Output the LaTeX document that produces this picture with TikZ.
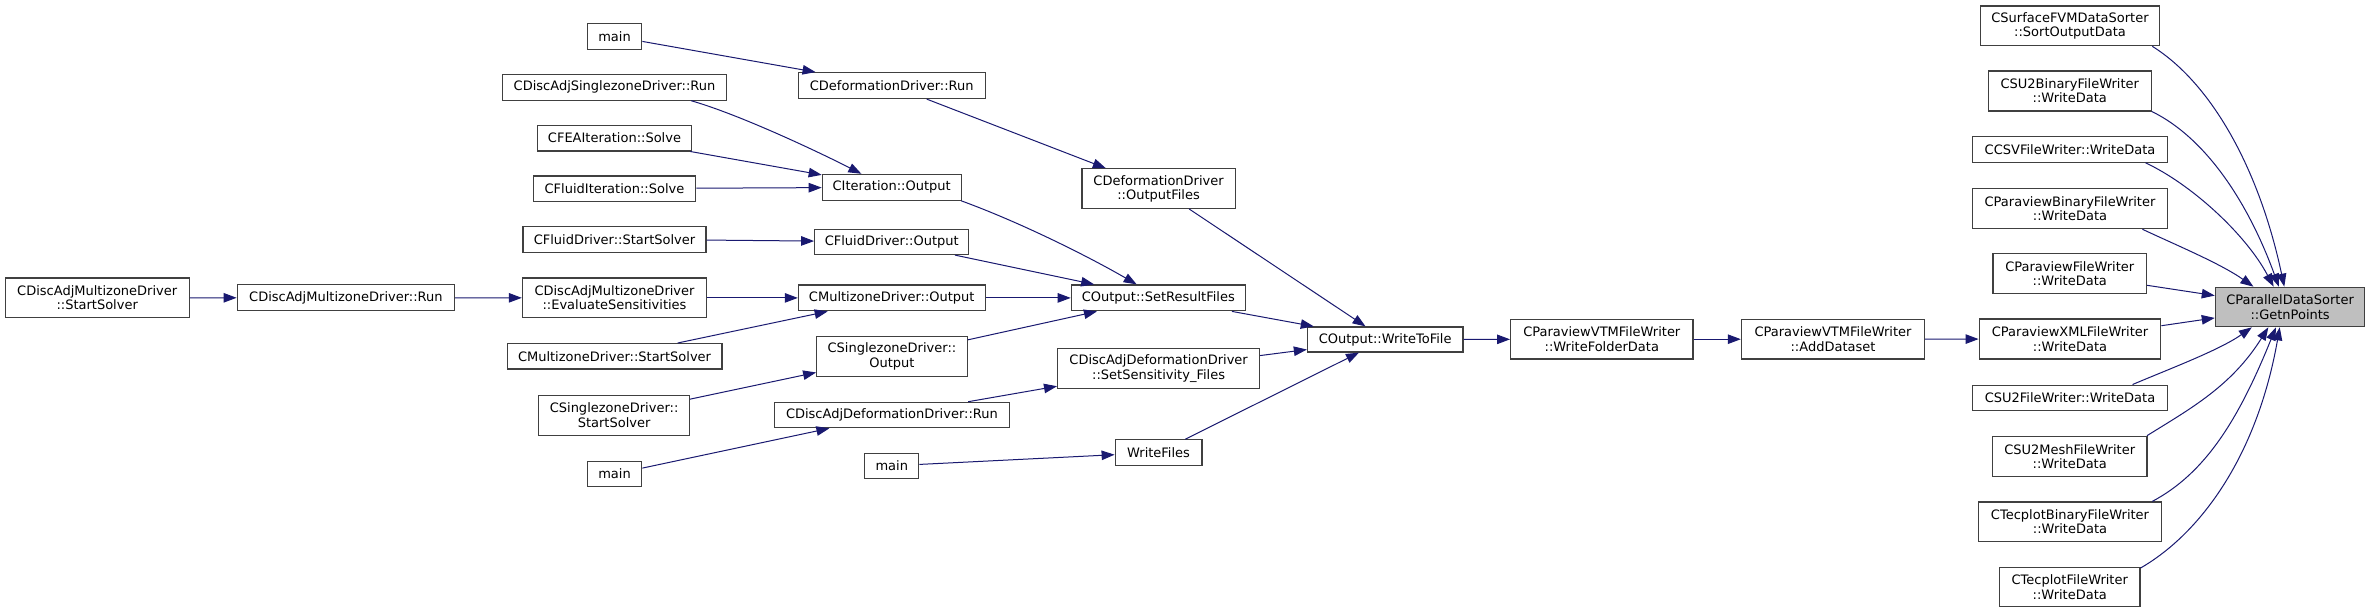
\documentclass[tikz,border=0pt]{standalone}
\usepackage{fontspec}
\setmainfont{DejaVu Sans}
\usetikzlibrary{arrows.meta}
\definecolor{edgeblue}{HTML}{191970}
\definecolor{nodeborder}{HTML}{404040}
\definecolor{rootfill}{HTML}{BFBFBF}
\tikzset{
  nd/.style={draw=nodeborder, line width=1.2pt, fill=white, inner sep=0pt,
    align=center, font=\fontsize{13pt}{14.3pt}\selectfont},
  root/.style={nd, fill=rootfill},
  e/.style={draw=edgeblue, line width=1pt, -{Triangle[length=13pt,width=9.5pt]}},
}
\newcommand{\nd}[7][nd]{\node[#1, minimum width=#5pt, minimum height=#6pt] (#2) at (#3,-#4) {#7};}
\begin{document}
\begin{tikzpicture}[x=1pt,y=1pt]
\useasboundingbox (0,0) rectangle (2369,-613);
\fill[white] (0,0) rectangle (2369,-613);

\nd{dams}{97.2}{297.9}{184.2}{39.8}{CDiscAdjMultizoneDriver\\::StartSolver}
\nd{damr}{345.9}{297.7}{217.4}{26.2}{CDiscAdjMultizoneDriver::Run}
\nd{mainA}{614.5}{36.5}{54.6}{25.5}{main}
\nd{dasr}{614.5}{87.2}{223.9}{25.8}{CDiscAdjSinglezoneDriver::Run}
\nd{fea}{614.5}{138}{154.6}{25.8}{CFEAIteration::Solve}
\nd{fis}{614.5}{188.6}{162.7}{25.4}{CFluidIteration::Solve}
\nd{fds}{614.5}{239.2}{183.1}{25.9}{CFluidDriver::StartSolver}
\nd{eval}{614.5}{297.9}{184.2}{39.8}{CDiscAdjMultizoneDriver\\::EvaluateSensitivities}
\nd{mzs}{614.5}{356.3}{214.8}{25.4}{CMultizoneDriver::StartSolver}
\nd{szs}{614.1}{415.2}{150.5}{39.9}{CSinglezoneDriver::\\StartSolver}
\nd{mainB}{614.5}{474}{54.6}{25.4}{main}

\nd{cdr}{891.75}{85.6}{186.7}{25.8}{CDeformationDriver::Run}
\nd{ito}{891.7}{187.3}{138.8}{25.8}{CIteration::Output}
\nd{fdo}{891.75}{241.8}{154.1}{25.4}{CFluidDriver::Output}
\nd{mzo}{891.75}{297.9}{186.7}{25.8}{CMultizoneDriver::Output}
\nd{szo}{891.95}{356.5}{150.5}{39.9}{CSinglezoneDriver::\\Output}
\nd{dadr}{891.9}{415}{234.8}{25.4}{CDiscAdjDeformationDriver::Run}
\nd{mainC}{891.75}{465.8}{54.1}{25.4}{main}

\nd{cdof}{1158.55}{188.6}{153.1}{39.5}{CDeformationDriver\\::OutputFiles}
\nd{srf}{1158.3}{297.9}{174}{25.8}{COutput::SetResultFiles}
\nd{ssf}{1158.6}{368.6}{202}{39.9}{CDiscAdjDeformationDriver\\::SetSensitivity\_Files}
\nd{wf}{1158.55}{452.5}{86.7}{25.4}{WriteFiles}

\nd{wtf}{1385.2}{339.5}{155.5}{25}{COutput::WriteToFile}
\nd{wfd}{1601.8}{339.2}{182.4}{39.5}{CParaviewVTMFileWriter\\::WriteFolderData}
\nd{ads}{1833}{339.2}{183.2}{39.5}{CParaviewVTMFileWriter\\::AddDataset}

\nd{sfvm}{2070}{25.8}{178.6}{39.8}{CSurfaceFVMDataSorter\\::SortOutputData}
\nd{su2b}{2069.75}{91}{162.7}{39.9}{CSU2BinaryFileWriter\\::WriteData}
\nd{csv}{2070}{149.5}{194.8}{25.4}{CCSVFileWriter::WriteData}
\nd{pvb}{2070}{208.5}{194.8}{40.3}{CParaviewBinaryFileWriter\\::WriteData}
\nd{pvf}{2069.75}{273.6}{153.5}{39.9}{CParaviewFileWriter\\::WriteData}
\nd{pvx}{2070}{339}{181.6}{39.9}{CParaviewXMLFileWriter\\::WriteData}
\nd{su2f}{2070}{397.8}{194.8}{25.4}{CSU2FileWriter::WriteData}
\nd{su2m}{2069.7}{456.4}{154.6}{40.2}{CSU2MeshFileWriter\\::WriteData}
\nd{tpb}{2070}{521.9}{182.6}{39.8}{CTecplotBinaryFileWriter\\::WriteData}
\nd{tpf}{2069.75}{587}{140.3}{39.5}{CTecplotFileWriter\\::WriteData}
\nd[root]{gnp}{2290.1}{307}{149.5}{39.5}{CParallelDataSorter\\::GetnPoints}

% edges
\draw[e] (mainA) -- (cdr);
\draw[e] (dasr.-10.6) .. controls +(-16:50) and +(153:50) .. (ito.156.8);
\draw[e] (fea) -- (ito);
\draw[e] (fis) -- (ito);
\draw[e] (fds) -- (fdo);
\draw[e] (dams) -- (damr);
\draw[e] (damr) -- (eval);
\draw[e] (eval) -- (mzo);
\draw[e] (mzs) -- (mzo);
\draw[e] (szs) -- (szo);
\draw[e] (mainB) -- (dadr);
\draw[e] (cdr) -- (cdof);
\draw[e] (ito.-11.3) .. controls +(-20:60) and +(150:60) .. (srf.148.8);
\draw[e] (fdo) -- (srf);
\draw[e] (mzo) -- (srf);
\draw[e] (szo) -- (srf);
\draw[e] (dadr) -- (ssf);
\draw[e] (mainC) -- (wf);
\draw[e] (cdof) -- (wtf);
\draw[e] (srf) -- (wtf);
\draw[e] (ssf) -- (wtf);
\draw[e] (wf) -- (wtf);
\draw[e] (wtf) -- (wfd);
\draw[e] (wfd) -- (ads);
\draw[e] (ads) -- (pvx);

\draw[e] (sfvm.-14.1) .. controls +(-32:70) and +(102:120) .. (gnp.106.4);
\draw[e] (su2b.-14.6) .. controls +(-26:60) and +(110:90) .. (gnp.119.4);
\draw[e] (csv.-10.1) .. controls +(-25:50) and +(118:60) .. (gnp.129.3);
\draw[e] (pvb.-16.3) .. controls +(-25:40) and +(145:40) .. (gnp.151.4);
\draw[e] (pvf) -- (gnp);
\draw[e] (pvx) -- (gnp);
\draw[e] (su2f.12.8) .. controls +(23:40) and +(-145:40) .. (gnp.208.5);
\draw[e] (su2m.15.7) .. controls +(32:50) and +(-122:70) .. (gnp.223.2);
\draw[e] (tpb.14.6) .. controls +(28:60) and +(-112:100) .. (gnp.235.7);
\draw[e] (tpf.15.7) .. controls +(30:70) and +(-100:130) .. (gnp.243.4);
\end{tikzpicture}
\end{document}
